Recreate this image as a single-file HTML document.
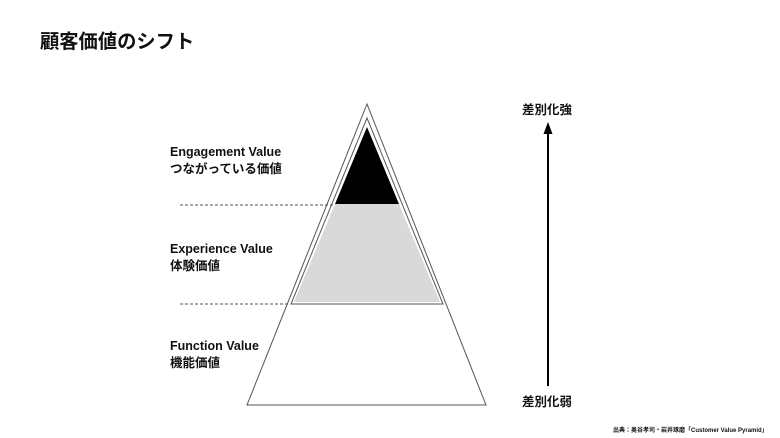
<!DOCTYPE html>
<html><head><meta charset="utf-8"><style>
html,body{margin:0;padding:0;background:#fff;}
body{width:780px;height:438px;position:relative;overflow:hidden;font-family:"Liberation Sans","Noto Sans CJK JP",sans-serif;color:#111;}
.t{position:absolute;white-space:nowrap;font-weight:bold;}
</style></head><body>
<svg width="780" height="438" style="position:absolute;left:0;top:0">
<polygon points="367,104 247,405 486,405" fill="#fff" stroke="#555" stroke-width="1"/>
<polygon points="367,118 291,304 443,304" fill="#fff" stroke="#555" stroke-width="1"/>
<polygon points="335,204 399,204 440,302 294,302" fill="#d9d9d9"/>
<polygon points="367,127 335,204 399,204" fill="#000"/>
<line x1="180" y1="205" x2="333" y2="205" stroke="#555" stroke-dasharray="3,2"/>
<line x1="180" y1="304" x2="290" y2="304" stroke="#555" stroke-dasharray="3,2"/>
<line x1="548" y1="386" x2="548" y2="132" stroke="#000" stroke-width="2"/>
<polygon points="548,122 543.5,134 552.5,134" fill="#000"/>
</svg>
<div class="t" style="left:40px;top:26px;font-size:19.3px;">顧客価値のシフト</div>
<div class="t" style="left:170px;top:144px;font-size:12.5px;line-height:17px">Engagement Value<br>つながっている価値</div>
<div class="t" style="left:170px;top:241px;font-size:12.5px;line-height:17px">Experience Value<br>体験価値</div>
<div class="t" style="left:170px;top:338px;font-size:12.5px;line-height:17px">Function Value<br>機能価値</div>
<div class="t" style="left:522px;top:99px;font-size:12.5px">差別化強</div>
<div class="t" style="left:522px;top:391px;font-size:12.5px">差別化弱</div>
<div class="t" style="left:613px;top:425px;font-size:6px">出典：奥谷孝司・岩井琢磨「Customer Value Pyramid」</div>
</body></html>
